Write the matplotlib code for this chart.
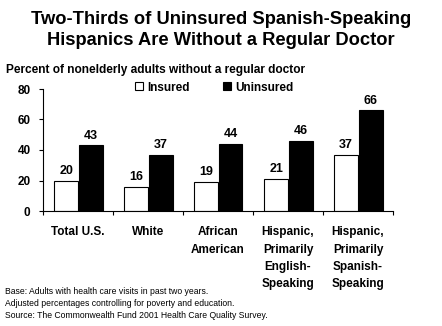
import matplotlib
matplotlib.use("Agg")
import matplotlib.pyplot as plt
import numpy as np

categories = ["Total U.S.", "White", "African\nAmerican",
              "Hispanic,\nPrimarily\nEnglish-\nSpeaking",
              "Hispanic,\nPrimarily\nSpanish-\nSpeaking"]
insured = [20, 16, 19, 21, 37]
uninsured = [43, 37, 44, 46, 66]
yticks = [0, 20, 40, 60, 80]

plt.rcParams['font.family'] = ['Liberation Sans', 'DejaVu Sans']

fig = plt.figure(figsize=(4.42, 3.26), dpi=100)
ax = fig.add_axes([43/442, 1-211/326, 350/442, 122/326])

x = np.arange(len(categories))
w = 0.34
ax.bar(x - w/2, insured, w, color='white', edgecolor='black', linewidth=0.8, label='Insured')
ax.bar(x + w/2 + 0.01, uninsured, w, color='black', edgecolor='black', linewidth=0.8, label='Uninsured')

for xi, v in zip(x, insured):
    ax.text(xi - w/2, v + 2.5, str(v), ha='center', va='bottom', fontsize=9, fontweight='bold')
for xi, v in zip(x, uninsured):
    ax.text(xi + w/2 + 0.01, v + 2.5, str(v), ha='center', va='bottom', fontsize=9, fontweight='bold')

ax.set_xlim(-0.5, len(categories) - 0.5)
ax.set_ylim(0, 80)
ax.set_yticks(yticks)
ax.set_yticklabels([str(t) for t in yticks], fontsize=8.5, fontweight='bold')
ax.set_xticks(np.arange(len(categories) + 1) - 0.5)
ax.set_xticklabels([])
ax.tick_params(axis='both', direction='out', length=3, width=0.8)
ax.tick_params(axis='y', pad=6)
ax.spines['top'].set_visible(False)
ax.spines['right'].set_visible(False)
ax.spines['left'].set_linewidth(0.8)
ax.spines['bottom'].set_linewidth(0.8)

for xi, c in zip(x, categories):
    ax.text(xi, -10, c, ha='center', va='top', fontsize=8.5, fontweight='bold',
            linespacing=1.6, transform=ax.transData)

leg = ax.legend(loc='upper left', bbox_to_anchor=(0.25, 1.1), ncol=2, frameon=False,
                prop={'weight': 'bold', 'size': 8.5}, handlelength=0.65, handleheight=0.65,
                columnspacing=2.8, handletextpad=0.4, borderaxespad=0)

fig.text(0.5, 0.965, "Two-Thirds of Uninsured Spanish-Speaking\nHispanics Are Without a Regular Doctor",
         ha='center', va='top', fontsize=13.2, fontweight='bold', linespacing=1.28)
fig.text(6/442, 1-70/326, "Percent of nonelderly adults without a regular doctor",
         ha='left', va='center', fontsize=8.6, fontweight='bold')

foot = ["Base: Adults with health care visits in past two years.",
        "Adjusted percentages controlling for poverty and education.",
        "Source: The Commonwealth Fund 2001 Health Care Quality Survey."]
for i, t in enumerate(foot):
    fig.text(5/442, 1-(291 + i*12)/326, t, ha='left', va='center', fontsize=6.2)

fig.savefig("out.png", dpi=100)
